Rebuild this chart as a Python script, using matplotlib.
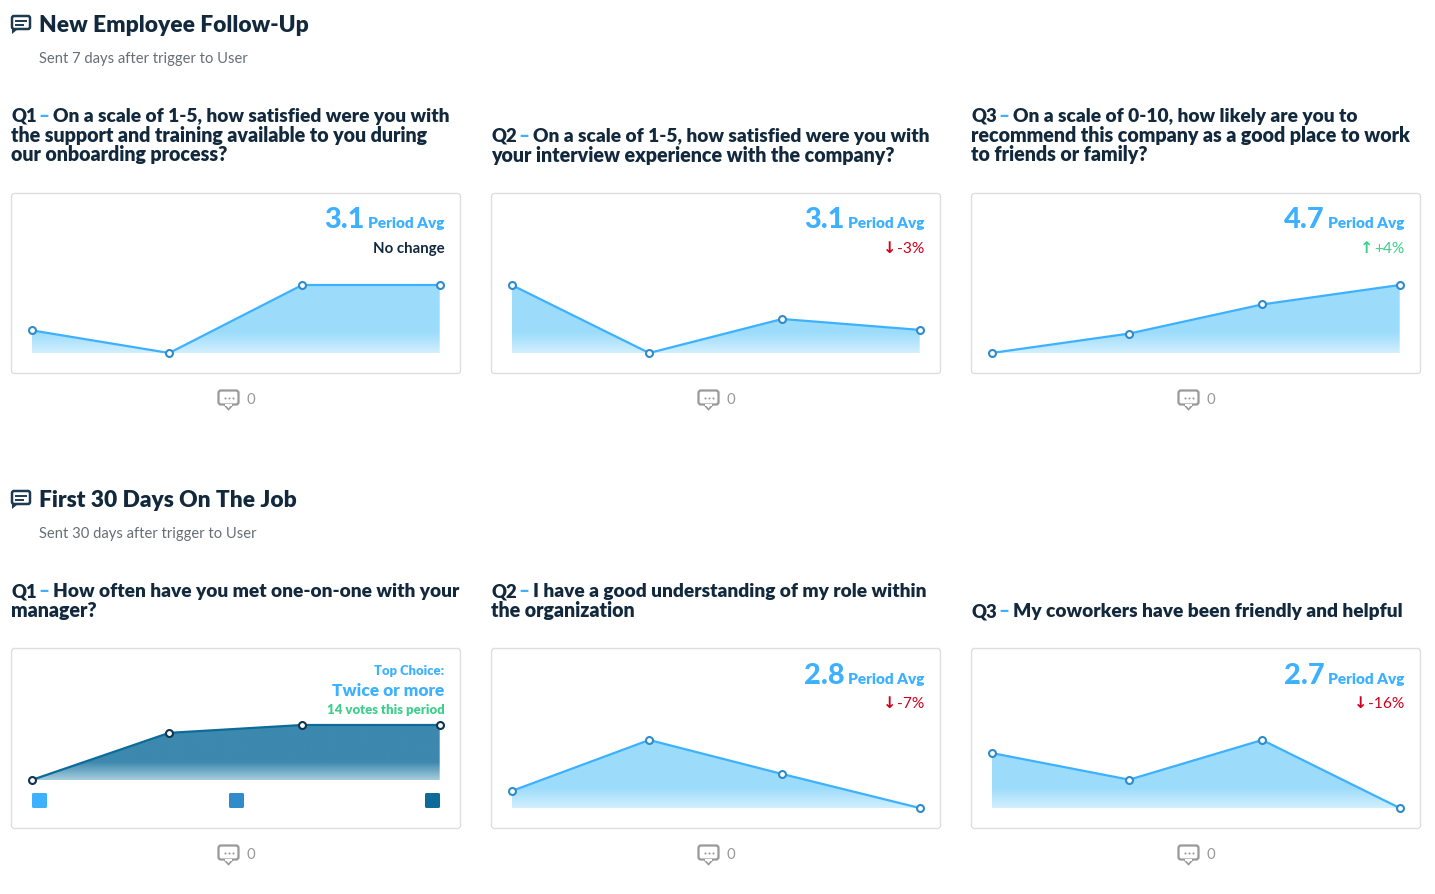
import numpy as np
import matplotlib
matplotlib.use('Agg')
import matplotlib.pyplot as plt
from matplotlib.colors import to_rgb
from matplotlib.patches import FancyBboxPatch, Polygon

WIDTH = 1435
HEIGHT = 894
FONT = 'Lato'

NAVY = '#12293d'
BLUE = '#3db1ff'
RED = '#d0021b'
GREEN = '#3ecf8e'
GREY = '#666e75'

# days since the start of the period
PERIOD_DAYS = [0, 31, 61, 92]

Q1_VALUES = [2.9, 2.6, 3.5, 3.5]
Q2_VALUES = [3.6, 2.6, 3.1, 2.94]
Q3_VALUES = [4.0, 4.4, 5.0, 5.4]
CHOICE_VOTES = [0, 12, 14, 14]
ROLE_VALUES = [2.6, 3.5, 2.9, 2.3]
COWORKER_VALUES = [2.97, 2.5, 3.2, 2.0]

Q1_LINES = ['On a scale of 1-5, how satisfied were you with',
            'the support and training available to you during',
            'our onboarding process?']
Q2_LINES = ['On a scale of 1-5, how satisfied were you with',
            'your interview experience with the company?']
Q3_LINES = ['On a scale of 0-10, how likely are you to',
            'recommend this company as a good place to work',
            'to friends or family?']
ROW2_Q1_LINES = ['How often have you met one-on-one with your', 'manager?']
ROW2_Q2_LINES = ['I have a good understanding of my role within', 'the organization']
ROW2_Q3_LINES = ['My coworkers have been friendly and helpful']

CHOICE_SQUARES = ['#3db1ff', '#2f8bca', '#0d6b9a']

fig = plt.figure(figsize=(WIDTH / 100, HEIGHT / 100), dpi=100, facecolor='white')
root = fig.add_axes([0, 0, 1, 1])
root.set_xlim(0, WIDTH)
root.set_ylim(HEIGHT, 0)
root.axis('off')


def put(x, y, s, px, color=NAVY, weight='heavy', ha='left'):
    return root.text(x, y, s, fontsize=px * 0.72, color=color, fontweight=weight, ha=ha, va='baseline',
                     family=FONT, zorder=5)


def text_width(t):
    bbox = t.get_window_extent(fig.canvas.get_renderer())
    return bbox.width


def section_icon(x, y):
    root.add_patch(FancyBboxPatch((x + 1, y + 1), 18, 13, boxstyle='round,pad=0,rounding_size=2', fc='none',
                                  ec='#1d3a50', lw=1.8))
    root.add_patch(Polygon([(x + 1, y + 13), (x + 1, y + 19), (x + 7, y + 14)], closed=True, fc='#1d3a50', ec='none'))
    root.plot([x + 5, x + 15], [y + 5.5, y + 5.5], color='#1d3a50', lw=1.4)
    root.plot([x + 5, x + 12], [y + 9.5, y + 9.5], color='#1d3a50', lw=1.4)


def section(y, title, subtitle):
    section_icon(11, y - 17)
    put(39, y, title, 22.7)
    put(39, y + 31, subtitle, 14.8, color=GREY, weight='normal')


def question(x, baseline, number, lines):
    put(x, baseline, number, 18.5)
    put(x + 27.5, baseline, '\u2013', 19, color=BLUE)
    put(x + 42, baseline, lines[0], 19.2)
    for i, line in enumerate(lines[1:]):
        put(x, baseline + 20 * (i + 1) - (1 if i else 0), line, 19.7)


def comments(card_x, card_y):
    x = card_x + 207.5
    y = card_y + 197.5
    root.add_patch(FancyBboxPatch((x, y), 20, 14, boxstyle='round,pad=0,rounding_size=2.5', fc='none',
                                  ec='#999999', lw=1.6))
    root.add_patch(Polygon([(x + 6, y + 14.5), (x + 10, y + 19), (x + 14, y + 14.5)], closed=True, fc='white',
                           ec='#999999', lw=1.2, zorder=3))
    root.add_patch(Polygon([(x + 6.5, y + 13), (x + 13.5, y + 13), (x + 13.5, y + 15), (x + 6.5, y + 15)], closed=True,
                           fc='white', ec='none', zorder=4))
    root.plot([x + 6, x + 10, x + 14], [y + 7, y + 7, y + 7], ls='none', marker='o', ms=1.5, mew=0, color='#999999')
    put(card_x + 235.5, card_y + 211, '0', 15, color='#999999', weight='normal')


def card(x, y):
    root.add_patch(FancyBboxPatch((x + 0.5, y + 0.5), 449, 180, boxstyle='round,pad=0,rounding_size=3', fc='white',
                                  ec='#dedede', lw=1.0, zorder=1))
    comments(x, y)


def gradient_image(solid, faded, fade_share):
    pos = np.linspace(0, 1, 100)  # 0 is the bottom of the area
    mix = np.clip(pos / fade_share, 0, 1)[:, None, None]
    return (1 - mix) * np.array(to_rgb(faded)) + mix * np.array(to_rgb(solid))


def area_chart(card_x, top, bottom, days, values, line=BLUE, edge='#2f8bca', solid='#9cdcfb', faded='#d2effe',
               fade_share=0.3):
    # the axes frame runs exactly from the lowest to the highest value
    ax = fig.add_axes([(card_x + 20.7) / WIDTH, 1 - bottom / HEIGHT, 408 / WIDTH, (bottom - top) / HEIGHT], zorder=3)
    ax.patch.set_alpha(0)
    ax.axis('off')
    ax.set_xlim(min(days), max(days))
    ax.set_ylim(min(values), max(values))
    poly = ax.fill_between(days, values, min(values), color='none', lw=0)
    img = ax.imshow(gradient_image(solid, faded, fade_share), origin='lower', aspect='auto', interpolation='bilinear',
                    extent=(min(days), max(days), min(values), max(values)))
    img.set_clip_path(poly.get_paths()[0], transform=ax.transData)
    ax.plot(days, values, color=line, lw=1.6, clip_on=False, zorder=4)
    ax.plot(days, values, ls='none', marker='o', ms=5, mfc='white', mec=edge, mew=1.5, clip_on=False, zorder=5)
    return ax


def period_avg(card_x, card_y, value, change=None):
    right = card_x + 433.5
    t = put(right, card_y + 35.5, 'Period Avg', 15.4, color=BLUE, ha='right')
    put(right - text_width(t) - 3, card_y + 35.5, value, 29, color=BLUE, ha='right', weight='black')
    if change is None:
        put(right, card_y + 60, 'No change', 15, weight='bold', ha='right')
        return
    color = RED if change.startswith('-') else GREEN
    arrow = '\u2193' if change.startswith('-') else '\u2191'
    t = put(right, card_y + 60, change, 15.5, color=color, weight='normal', ha='right')
    root.text(right - text_width(t) - 1, card_y + 60, arrow, fontsize=11.5, color=color, fontweight='bold',
              ha='right', va='baseline', family='DejaVu Sans', zorder=5)


section(32, 'New Employee Follow-Up', 'Sent 7 days after trigger to User')
section(507, 'First 30 Days On The Job', 'Sent 30 days after trigger to User')

question(11, 122, 'Q1', Q1_LINES)
question(491, 142, 'Q2', Q2_LINES)
question(971, 122, 'Q3', Q3_LINES)
question(11, 597, 'Q1', ROW2_Q1_LINES)
question(491, 597, 'Q2', ROW2_Q2_LINES)
question(971, 617, 'Q3', ROW2_Q3_LINES)

for card_x in [11, 491, 971]:
    card(card_x, 193)
    card(card_x, 648)

area_chart(11, 285, 353, PERIOD_DAYS, Q1_VALUES)
period_avg(11, 193, '3.1')
area_chart(491, 285, 353, PERIOD_DAYS, Q2_VALUES)
period_avg(491, 193, '3.1', '-3%')
area_chart(971, 285, 353, PERIOD_DAYS, Q3_VALUES)
period_avg(971, 193, '4.7', '+4%')

area_chart(11, 725, 780, PERIOD_DAYS, CHOICE_VOTES, line='#0d6b9a', edge='#0f3550', solid='#3c88ae', faded='#a5cddc',
           fade_share=0.33)
put(444.5, 675, 'Top Choice:', 13, color=BLUE, ha='right')
put(444.5, 696, 'Twice or more', 17.3, color=BLUE, ha='right')
put(444.5, 714, '14 votes this period', 13.1, color=GREEN, ha='right')
for square_x, square_color in zip([32, 229, 425], CHOICE_SQUARES):
    root.add_patch(FancyBboxPatch((square_x, 793), 15, 15, boxstyle='round,pad=0,rounding_size=1.5', fc=square_color,
                                  ec='none', zorder=3))

area_chart(491, 740, 808, PERIOD_DAYS, ROLE_VALUES)
period_avg(491, 648, '2.8', '-7%')
area_chart(971, 740, 808, PERIOD_DAYS, COWORKER_VALUES)
period_avg(971, 648, '2.7', '-16%')

fig.savefig('out.png', dpi=100, facecolor='white')
